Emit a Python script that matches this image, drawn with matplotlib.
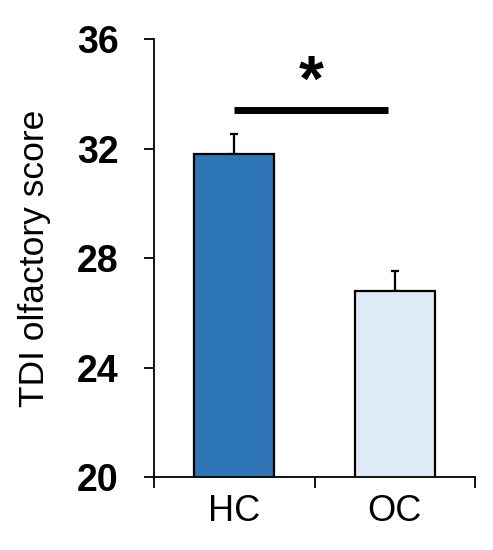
import matplotlib
matplotlib.use("Agg")
import matplotlib.pyplot as plt

categories = ["HC", "OC"]
means = [31.82, 26.8]
errors = [0.71, 0.72]
colors = ["#2E75B6", "#DEEBF7"]
sig_y = 33.41
y_ticks = [20, 24, 28, 32, 36]

plt.rcParams['font.family'] = ['Liberation Sans', 'DejaVu Sans']

fig = plt.figure(figsize=(4.93, 5.5), dpi=100)
ax = fig.add_axes([0.3124, 0.1327, 0.9635 - 0.3124, 0.9286 - 0.1327])

x = [0.5 + i for i in range(len(categories))]
ax.bar(x, means, width=0.5, color=colors, edgecolor="black", linewidth=1.6, zorder=2)
ax.errorbar(x, means, yerr=[[0, 0], errors], fmt="none", ecolor="black",
            elinewidth=1.6, capsize=3, capthick=1.6, zorder=1)

ax.plot([x[0], 1.46], [sig_y, sig_y], color="black", lw=5, solid_capstyle="butt")
ax.text(0.98, 33.74, "*", ha="center", va="baseline", fontsize=46, fontweight="bold")

ax.set_xlim(0, 2)
ax.set_ylim(20, 36)
ax.set_yticks(y_ticks)
ax.set_yticklabels([str(t) for t in y_ticks], fontsize=27, fontweight="bold")
ax.tick_params(axis="y", direction="out", length=7.5, width=1.3, pad=18)

ax.set_xticks(x)
ax.set_xticklabels(categories, fontsize=26)
ax.tick_params(axis="x", which="major", length=0, pad=12)
ax.set_xticks([0, 1, 2], minor=True)
ax.tick_params(axis="x", which="minor", direction="out", length=8, width=1.3)

for s in ["top", "right"]:
    ax.spines[s].set_visible(False)
for s in ["left", "bottom"]:
    ax.spines[s].set_linewidth(1.3)

ax.set_ylabel("TDI olfactory score", fontsize=25.5)
ax.yaxis.set_label_coords(-0.322, 0.5)

fig.savefig("out.png", dpi=100)
